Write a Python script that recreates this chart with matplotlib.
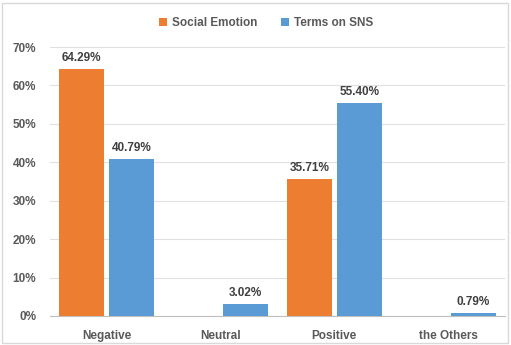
import numpy as np
import matplotlib.pyplot as plt
from matplotlib.patches import Rectangle

categories = ['Negative', 'Neutral', 'Positive', 'the Others']
social_emotion = [64.29, 0, 35.71, 0]
terms_on_sns = [40.79, 3.02, 55.40, 0.79]
series_names = ['Social Emotion', 'Terms on SNS']
colors = ['#ED7D31', '#5B9BD5']

plt.rcParams['font.family'] = ['Liberation Sans', 'DejaVu Sans']

fig = plt.figure(figsize=(5.11, 3.45), dpi=100)
ax = fig.add_axes([50/511, 1-316/345, 455/511, (316-47)/345])

fig.patches.append(Rectangle((2/511, 2/345), 506/511, 340/345, transform=fig.transFigure,
                             fill=False, edgecolor='#D9D9D9', linewidth=1))

x = np.arange(len(categories))
w = 0.395
off = 0.22
b1 = ax.bar(x - off, social_emotion, w, color=colors[0], label=series_names[0], zorder=3)
b2 = ax.bar(x + off, terms_on_sns, w, color=colors[1], label=series_names[1], zorder=3)

for bars, vals in [(b1, social_emotion), (b2, terms_on_sns)]:
    for r, v in zip(bars, vals):
        if v > 0:
            ax.text(r.get_x() + r.get_width()/2, v + 1.3, '%.2f%%' % v, ha='center', va='bottom',
                    fontsize=8.5, fontweight='bold', color='#404040')

ax.set_xlim(-0.5, 3.5)
ax.set_ylim(0, 70)
ax.set_yticks(range(0, 71, 10))
ax.set_yticklabels(['%d%%' % t for t in range(0, 71, 10)])
ax.set_xticks(x)
ax.set_xticklabels(categories)
ax.tick_params(axis='both', length=0, labelsize=8.5, labelcolor='#595959')
ax.tick_params(axis='y', pad=10)
ax.tick_params(axis='x', pad=10)
for lab in ax.get_xticklabels() + ax.get_yticklabels():
    lab.set_fontweight('bold')

ax.grid(axis='y', color='#E0E0E0', linewidth=0.8, zorder=0)
for s in ['top', 'right', 'left']:
    ax.spines[s].set_visible(False)
ax.spines['bottom'].set_color('#BFBFBF')

leg = fig.legend(loc='center', bbox_to_anchor=(0.52, 1-23/345), ncol=2, frameon=False,
                 fontsize=8.5, handlelength=0.7, handleheight=0.7, columnspacing=2.0,
                 handletextpad=0.4)
for t in leg.get_texts():
    t.set_fontweight('bold')
    t.set_color('#595959')

fig.savefig('out.png', dpi=100)
